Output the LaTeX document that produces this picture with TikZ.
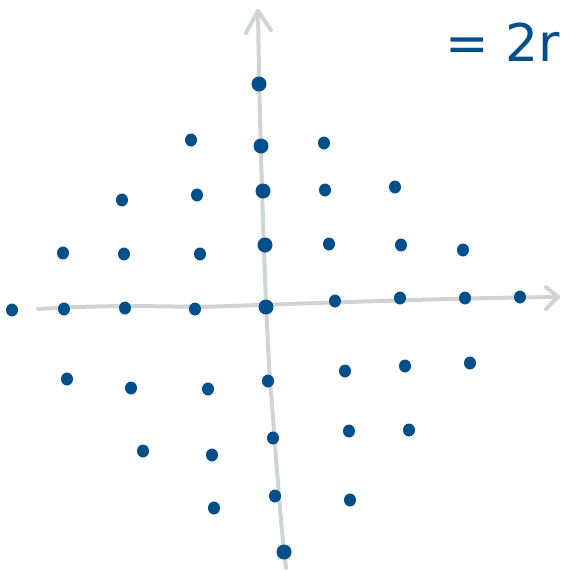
\documentclass[tikz,border=0pt]{standalone}
\usepackage{fontspec}
\usetikzlibrary{shapes.geometric}
\newfontfamily\handfont{DejaVu Sans}
\definecolor{dotblue}{HTML}{034F8A}
\definecolor{axisgray}{HTML}{D0D4D7}
\begin{document}
\begin{tikzpicture}[x=1pt,y=-1pt,
  axisline/.style={draw=axisgray,line width=4pt,line cap=round,line join=round},
  latdot/.style={ellipse,fill=dotblue,inner sep=0pt,minimum width=12pt,minimum height=13pt},
  bigdot/.style={circle,fill=dotblue,inner sep=0pt,minimum size=15pt},
  eqtext/.style={text=dotblue,font=\handfont\fontsize{52}{52}\selectfont,anchor=base west,inner sep=0pt}]
\useasboundingbox (0,0) rectangle (563,571);
% axes
\draw[axisline] (38,309) .. controls (100,305) and (150,306) .. (200,307) .. controls (320,303) and (450,298) .. (558,297);
\draw[axisline] (546,287) -- (558,297) -- (546,309);
\draw[axisline] (286,568) .. controls (280,520) and (275,440) .. (270,380) .. controls (265,300) and (260,150) .. (258,11);
\draw[axisline] (246,33) -- (258,11) -- (271,30);
% text
\node[eqtext] (eq) at (445,61) {= 2r};
% dots
\foreach \x/\y [count=\i] in {
  191/140, 324/143,
  122/200, 197/195, 325/190, 395/187,
  63/253, 124/254, 200/254, 329/244, 401/245, 463/250,
  12/310, 64/309, 125/308, 195/309, 335/301, 400/298, 465/298, 520/297,
  67/379, 131/388, 208/389, 268/381, 345/371, 405/366, 470/363,
  143/451, 212/455, 273/438, 349/431, 409/430,
  214/508, 275/496, 350/500}
  \node[latdot] (d\i) at (\x,\y) {};
\foreach \x/\y [count=\i] in {259/84, 261/146, 263/191, 265/245, 266/307, 284/552}
  \node[bigdot] (b\i) at (\x,\y) {};
\end{tikzpicture}
\end{document}
